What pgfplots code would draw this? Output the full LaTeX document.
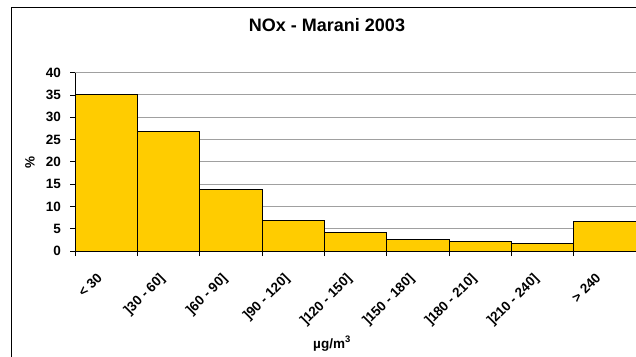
\documentclass[border=0pt]{standalone}
\usepackage{fontspec}
\setmainfont{Liberation Sans}
\usepackage{pgfplots}
\pgfplotsset{compat=1.18}
\definecolor{gold}{HTML}{FFCC00}
\definecolor{gridgray}{HTML}{A0A0A0}
\begin{document}
\begin{tikzpicture}[x=1pt,y=1pt]
\useasboundingbox (0,0) rectangle (636,356);
\draw[line width=1pt] (11.7,-5) -- (11.7,348.7) -- (645,348.7);
\node[anchor=base,font=\bfseries\fontsize{18}{21}\selectfont] at (327,324.3) {NOx - Marani 2003};
\node[anchor=base,font=\bfseries\fontsize{13.5}{16}\selectfont] at (332,8) {µg/m\textsuperscript{3}};
\node[rotate=90,font=\bfseries\fontsize{13.5}{16}\selectfont] at (30,194) {\%};
\begin{axis}[
  at={(75pt,105pt)}, anchor=south west,
  scale only axis, width=561pt, height=178.3pt,
  xmin=0, xmax=9, ymin=0, ymax=40,
  axis lines*=left,
  axis line style={black, line width=1pt},
  tick align=outside,
  major tick length=5pt,
  tick style={black, line width=0.8pt},
  xtick={0,...,9},
  x tick label as interval,
  xticklabels={{< 30},{]30 - 60]},{]60 - 90]},{]90 - 120]},{]120 - 150]},{]150 - 180]},{]180 - 210]},{]210 - 240]},{> 240}},
  ytick={0,5,...,40},
  ymajorgrids,
  grid style={gridgray, line width=1pt},
  /pgf/number format/assume math mode=true,
  tick label style={font=\bfseries\fontsize{13.5}{16}\selectfont},
  xticklabel style={xshift=-10pt, yshift=-16pt, rotate=45, anchor=north east, inner sep=0pt},
  yticklabel style={inner sep=0pt, xshift=-9pt},
  clip=false,
]
\addplot[ybar interval, fill=gold, draw=black, line width=1pt] coordinates {
(0,35.2) (1,26.7) (2,13.8) (3,6.9) (4,4.2) (5,2.6) (6,2.1) (7,1.6) (8,6.6) (9,6.6)
};
\end{axis}
\end{tikzpicture}
\end{document}
